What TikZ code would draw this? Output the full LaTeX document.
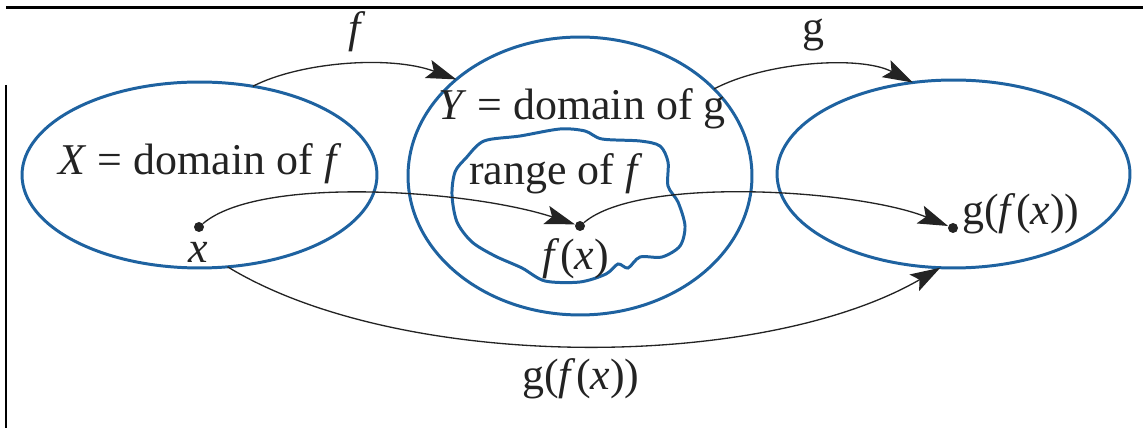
\documentclass[tikz,border=0pt]{standalone}
\usepackage{fontspec}
\setmainfont{Liberation Serif}
\usetikzlibrary{positioning,arrows.meta,calc,shapes.geometric}
\definecolor{setblue}{RGB}{30,98,160}
\definecolor{inkgray}{RGB}{35,35,35}

\begin{document}
\begin{tikzpicture}[x=0.02cm,y=-0.02cm,
  setline/.style={draw=setblue,line width=1.7pt},
  setoval/.style={setline,ellipse,inner sep=0pt,outer sep=0pt},
  maparrow/.style={-{Stealth[length=0.6cm,width=0.38cm,inset=0.12cm]},line width=0.75pt,inkgray},
  dot/.style={circle,fill=inkgray,inner sep=0pt,minimum size=0.2cm},
  lbl/.style={inkgray,font=\fontsize{25}{28}\selectfont,anchor=base,inner sep=0pt}]
\useasboundingbox (0,0) rectangle (1143,428);
% frame rules
\draw[line width=1.7pt] (6,8) -- (1143,8);
\draw[line width=1.7pt] (6,85) -- (6,428);
% the three sets
\node[setoval,minimum width=7.1cm,minimum height=3.72cm] (X) at (199.5,175) {};
\node[setoval,minimum width=6.88cm,minimum height=5.56cm] (Y) at (580,176) {};
\node[setoval,minimum width=7.06cm,minimum height=3.76cm] (Z) at (953.5,174) {};
% range of f
\draw[setline] plot[smooth cycle,tension=0.5] coordinates {
  (466,158) (484,141) (520,136) (560,129) (585,131) (602,139)
  (640,141) (660,146) (668,162) (668,186) (678,202) (685,226)
  (680,246) (662,257) (640,257) (628,268) (618,264) (606,274)
  (580,282) (545,281) (522,268) (495,256) (472,242) (457,222)
  (452,195) (455,172)};
% points
\node[dot] (x) at (199,227) {};
\node[dot] (fx) at (580,226) {};
\node[dot] (gfx) at (953,228) {};
% labels
\node[lbl] (Xlbl) at (200,175) {\textit{X} = domain of \textit{f}};
\node[lbl] (Ylbl) at (582,120) {\textit{Y} = domain of g};
\node[lbl] (rlbl) at (556,185) {range of \textit{f}};
\node[lbl] (xlbl) at (198,263) {\textit{x}};
\node[lbl] (fxlbl) at (576,270) {\textit{f}(\textit{x})};
\node[lbl,anchor=base west] (gfxlbl) at (962,225) {g(\textit{f}(\textit{x}))};
\node[lbl] (flbl) at (357,43) {\textit{f}};
\node[lbl] (glbl) at (813,42) {g};
\node[lbl] (hlbl) at (581,390) {g(\textit{f}(\textit{x}))};
% maps
\draw[maparrow] (X.59) .. controls (300,62) and (390,55) .. (Y.142);
\draw[maparrow] (Y.33) .. controls (765,62) and (860,55) .. (Z.114);
\draw[maparrow] (x) .. controls (260,175) and (470,190) .. (fx);
\draw[maparrow] (fx) .. controls (640,175) and (860,190) .. (gfx);
\draw[maparrow] (X.287) .. controls (400,372) and (760,372) .. (Z.262);
\end{tikzpicture}
\end{document}
